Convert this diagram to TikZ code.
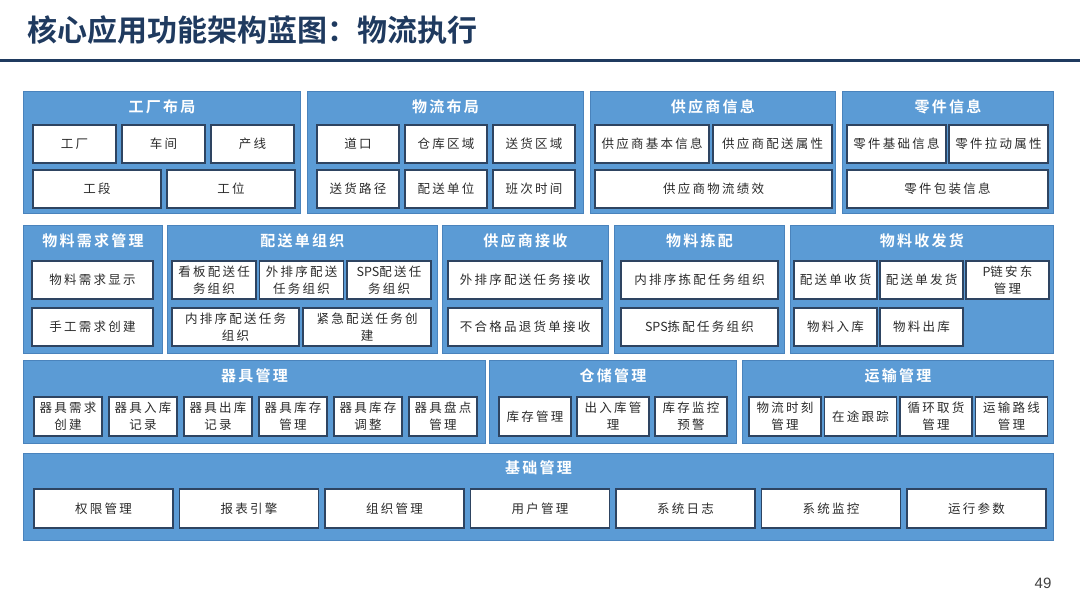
\documentclass[tikz,border=0pt]{standalone}
\usepackage{fontspec}
\newfontfamily\cjk[LetterSpace=18]{Noto Sans CJK SC}
\newfontfamily\cjkbold[LetterSpace=15]{Noto Sans CJK SC Bold}
\newfontfamily\headfont{Noto Sans CJK SC Bold}
\newfontfamily\numfont{Liberation Sans}
\newcommand\tight[1]{{\addfontfeature{LetterSpace=0}#1}}
\usetikzlibrary{positioning}
\definecolor{panelblue}{HTML}{5B9BD5}
\definecolor{paneledge}{HTML}{4A83BC}
\definecolor{boxedge}{HTML}{2E4461}
\definecolor{headblue}{HTML}{1F3A5F}
\definecolor{boxtext}{HTML}{2B2B2B}
\tikzset{
  panel/.style={fill=panelblue, draw=paneledge, line width=0.8pt, anchor=north west, inner sep=0pt},
  ptitle/.style={text=white, font=\cjkbold\fontsize{15}{17}\selectfont},
  cell/.style={fill=white, draw=boxedge, line width=1.2pt, inner sep=1pt, outer sep=0pt, align=center,
    minimum height=38pt, text=boxtext, font=\cjk\fontsize{12.5}{17}\selectfont}
}

\begin{document}
\begin{tikzpicture}[x=1pt, y=-1pt]
    \useasboundingbox (0,0) rectangle (1080,608);

    % Heading
    \node[anchor=west, text=headblue, font=\headfont\fontsize{30}{32}\selectfont] (head) at (24,30) {核心应用功能架构蓝图：物流执行};
    \coordinate (rule-l) at (0,60);
    \coordinate (rule-r) at (1080,60);
    \draw[headblue, line width=3pt] (rule-l) -- (rule-r);

    % Row 1 panels
    \node[panel, minimum width=277pt, minimum height=122pt] (factory) at (23,91) {};
    \node[panel, minimum width=276pt, minimum height=122pt] (layout) at (307,91) {};
    \node[panel, minimum width=245pt, minimum height=122pt] (supinfo) at (590,91) {};
    \node[panel, minimum width=211pt, minimum height=122pt] (partinfo) at (842,91) {};
    \node[ptitle] (factory-t) at ([yshift=-16pt]factory.north) {工厂布局};
    \node[ptitle] (layout-t) at ([yshift=-16pt]layout.north) {物流布局};
    \node[ptitle] (supinfo-t) at ([yshift=-16pt]supinfo.north) {供应商信息};
    \node[ptitle] (partinfo-t) at ([yshift=-16pt]partinfo.north) {零件信息};

    \node[cell, minimum width=83pt] (f1) [anchor=north west] at (33,125) {工厂};
    \node[cell, minimum width=83pt] (f2) [right=6pt of f1] {车间};
    \node[cell, minimum width=83pt] (f3) [right=6pt of f2] {产线};
    \node[cell, minimum width=128pt] (f4) [anchor=north west] at (33,170) {工段};
    \node[cell, minimum width=128pt] (f5) [right=6pt of f4] {工位};

    \node[cell, minimum width=82pt] (l1) [anchor=north west] at (317,125) {道口};
    \node[cell, minimum width=82pt] (l2) [right=6pt of l1] {仓库区域};
    \node[cell, minimum width=82pt] (l3) [right=6pt of l2] {送货区域};
    \node[cell, minimum width=82pt] (l4) [anchor=north west] at (317,170) {送货路径};
    \node[cell, minimum width=82pt] (l5) [right=6pt of l4] {配送单位};
    \node[cell, minimum width=82pt] (l6) [right=6pt of l5] {班次时间};

    \node[cell, minimum width=114pt] (s1) [anchor=north west] at (595,125) {供应商基本信息};
    \node[cell, minimum width=119pt] (s2) [right=4pt of s1] {供应商配送属性};
    \node[cell, minimum width=237pt] (s3) [anchor=north west] at (595,170) {供应商物流绩效};

    \node[cell, minimum width=99pt] (p1) [anchor=north west] at (847,125) {零件基础信息};
    \node[cell, minimum width=99pt] (p2) [right=3pt of p1] {零件拉动属性};
    \node[cell, minimum width=201pt] (p3) [anchor=north west] at (847,170) {零件包装信息};

    % Row 2 panels
    \node[panel, minimum width=139pt, minimum height=128pt] (demand) at (23,225) {};
    \node[panel, minimum width=270pt, minimum height=128pt] (dispatch) at (167,225) {};
    \node[panel, minimum width=166pt, minimum height=128pt] (suprecv) at (442,225) {};
    \node[panel, minimum width=170pt, minimum height=128pt] (picking) at (614,225) {};
    \node[panel, minimum width=263pt, minimum height=128pt] (shipping) at (790,225) {};
    \node[ptitle] (demand-t) at ([yshift=-16pt]demand.north) {物料需求管理};
    \node[ptitle] (dispatch-t) at ([yshift=-16pt]dispatch.north) {配送单组织};
    \node[ptitle] (suprecv-t) at ([yshift=-16pt]suprecv.north) {供应商接收};
    \node[ptitle] (picking-t) at ([yshift=-16pt]picking.north) {物料拣配};
    \node[ptitle] (shipping-t) at ([yshift=-16pt]shipping.north) {物料收发货};

    \node[cell, minimum width=121pt] (d1) [anchor=north west] at (32,261) {物料需求显示};
    \node[cell, minimum width=121pt] (d2) [anchor=north west] at (32,308) {手工需求创建};

    \node[cell, minimum width=84pt] (o1) [anchor=north west] at (172,261) {看板配送任\\务组织};
    \node[cell, minimum width=84pt] (o2) [right=3.5pt of o1] {外排序配送\\任务组织};
    \node[cell, minimum width=84pt] (o3) [right=3.5pt of o2] {\tight{SPS}配送任\\务组织};
    \node[cell, minimum width=127pt] (o4) [anchor=north west] at (172,308) {内排序配送任务\\组织};
    \node[cell, minimum width=128pt] (o5) [right=4pt of o4] {紧急配送任务创\\建};

    \node[cell, minimum width=154pt] (r1) [anchor=north west] at (448,261) {外排序配送任务接收};
    \node[cell, minimum width=154pt] (r2) [anchor=north west] at (448,308) {不合格品退货单接收};

    \node[cell, minimum width=157pt] (k1) [anchor=north west] at (621,261) {内排序拣配任务组织};
    \node[cell, minimum width=157pt] (k2) [anchor=north west] at (621,308) {\tight{SPS}拣配任务组织};

    \node[cell, minimum width=83pt] (h1) [anchor=north west] at (794,261) {配送单收货};
    \node[cell, minimum width=83pt] (h2) [right=3pt of h1] {配送单发货};
    \node[cell, minimum width=83pt] (h3) [right=3pt of h2] {\tight{P}链安东\\管理};
    \node[cell, minimum width=83pt] (h4) [anchor=north west] at (794,308) {物料入库};
    \node[cell, minimum width=83pt] (h5) [right=3pt of h4] {物料出库};

    % Row 3 panels
    \node[panel, minimum width=462pt, minimum height=83pt] (tooling) at (23,360) {};
    \node[panel, minimum width=247pt, minimum height=83pt] (storage) at (489,360) {};
    \node[panel, minimum width=311pt, minimum height=83pt] (transport) at (742,360) {};
    \node[ptitle] (tooling-t) at ([yshift=-16pt]tooling.north) {器具管理};
    \node[ptitle] (storage-t) at ([yshift=-16pt]storage.north) {仓储管理};
    \node[ptitle] (transport-t) at ([yshift=-16pt]transport.north) {运输管理};

    \node[cell, minimum width=68pt, minimum height=39pt] (t1) [anchor=north west] at (34,397) {器具需求\\创建};
    \node[cell, minimum width=68pt, minimum height=39pt] (t2) [right=7pt of t1] {器具入库\\记录};
    \node[cell, minimum width=68pt, minimum height=39pt] (t3) [right=7pt of t2] {器具出库\\记录};
    \node[cell, minimum width=68pt, minimum height=39pt] (t4) [right=7pt of t3] {器具库存\\管理};
    \node[cell, minimum width=68pt, minimum height=39pt] (t5) [right=7pt of t4] {器具库存\\调整};
    \node[cell, minimum width=68pt, minimum height=39pt] (t6) [right=7pt of t5] {器具盘点\\管理};

    \node[cell, minimum width=72pt, minimum height=39pt] (w1) [anchor=north west] at (499,397) {库存管理};
    \node[cell, minimum width=72pt, minimum height=39pt] (w2) [right=6pt of w1] {出入库管\\理};
    \node[cell, minimum width=72pt, minimum height=39pt] (w3) [right=6pt of w2] {库存监控\\预警};

    \node[cell, minimum width=72pt, minimum height=39pt] (x1) [anchor=north west] at (749,397) {物流时刻\\管理};
    \node[cell, minimum width=72pt, minimum height=39pt] (x2) [right=3.5pt of x1] {在途跟踪};
    \node[cell, minimum width=72pt, minimum height=39pt] (x3) [right=3.5pt of x2] {循环取货\\管理};
    \node[cell, minimum width=72pt, minimum height=39pt] (x4) [right=3.5pt of x3] {运输路线\\管理};

    % Row 4 panel
    \node[panel, minimum width=1030pt, minimum height=87pt] (base) at (23,453) {};
    \node[ptitle] (base-t) at ([yshift=-15pt]base.north) {基础管理};

    \node[cell, minimum width=139pt, minimum height=39pt] (b1) [anchor=north west] at (34,489) {权限管理};
    \node[cell, minimum width=139pt, minimum height=39pt] (b2) [right=6.5pt of b1] {报表引擎};
    \node[cell, minimum width=139pt, minimum height=39pt] (b3) [right=6.5pt of b2] {组织管理};
    \node[cell, minimum width=139pt, minimum height=39pt] (b4) [right=6.5pt of b3] {用户管理};
    \node[cell, minimum width=139pt, minimum height=39pt] (b5) [right=6.5pt of b4] {系统日志};
    \node[cell, minimum width=139pt, minimum height=39pt] (b6) [right=6.5pt of b5] {系统监控};
    \node[cell, minimum width=139pt, minimum height=39pt] (b7) [right=6.5pt of b6] {运行参数};

    % Page number
    \node[text=black!75, font=\numfont\fontsize{15}{17}\selectfont] (pagenum) at (1043,583) {49};
\end{tikzpicture}
\end{document}
